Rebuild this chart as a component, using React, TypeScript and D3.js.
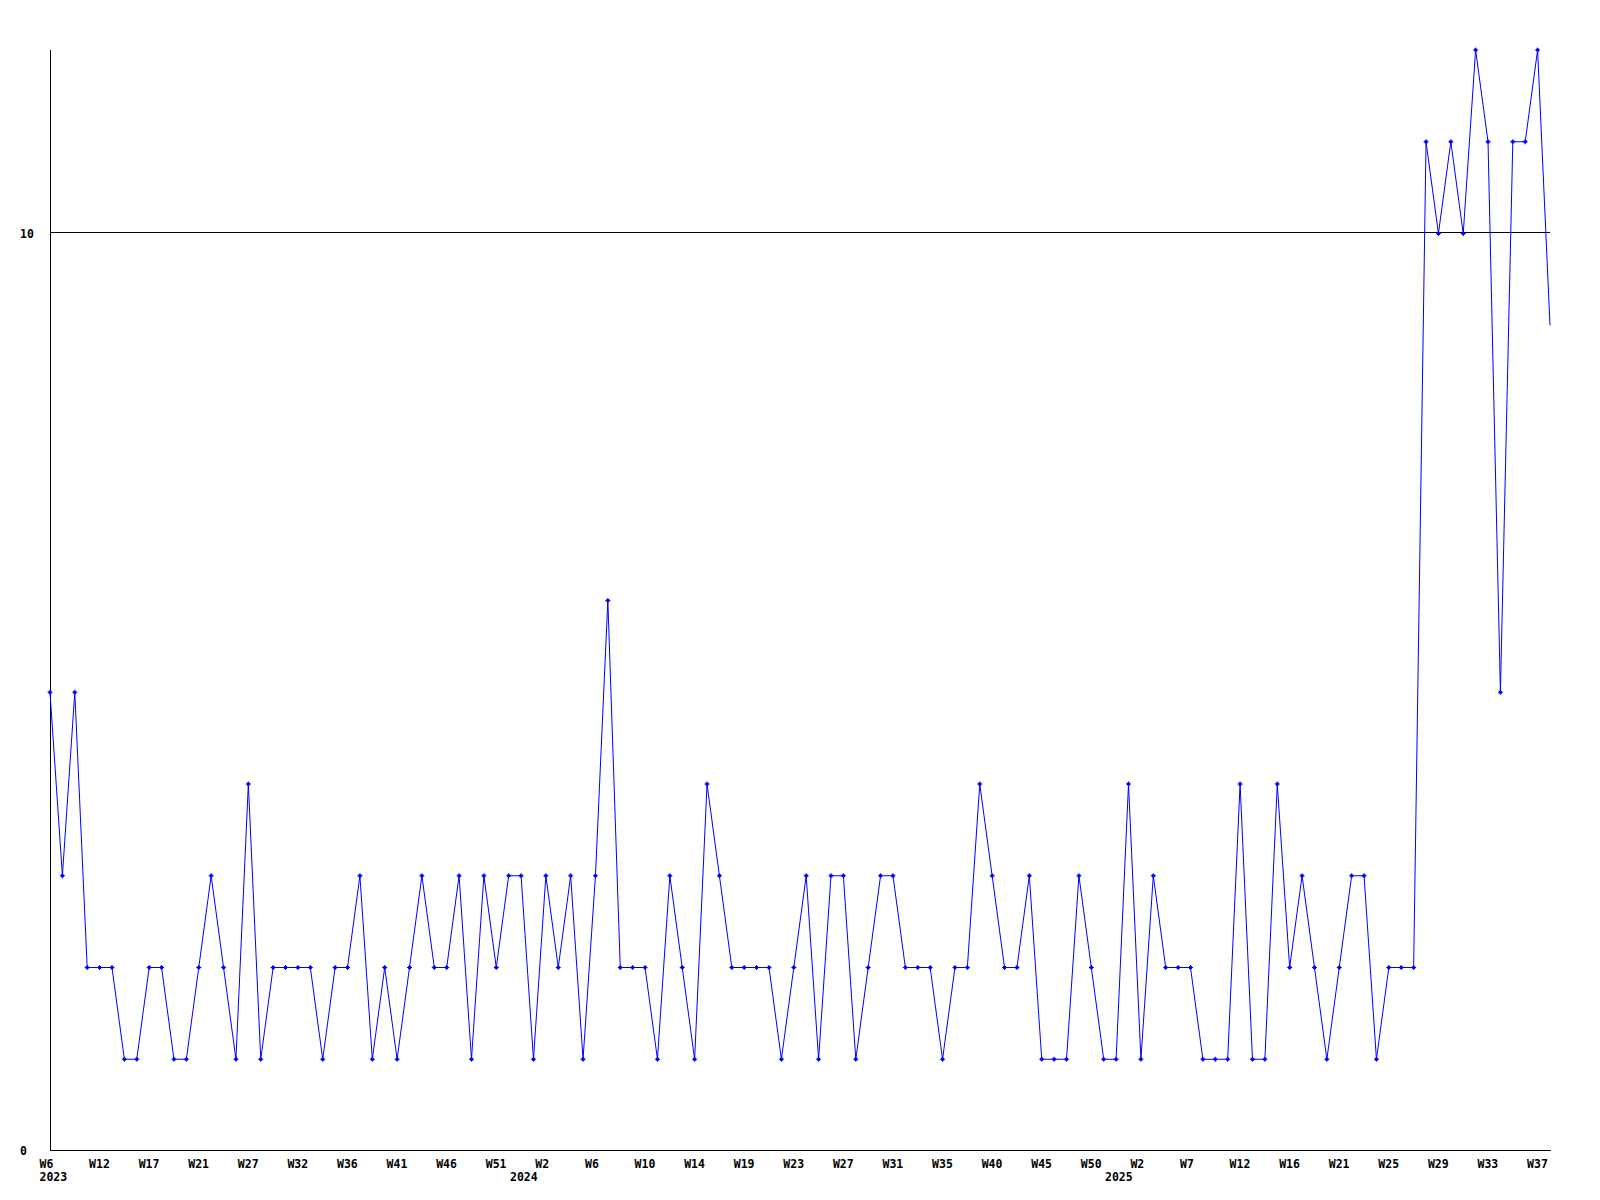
import React from "react";
import * as d3 from "d3";

// ---- data ----
const values: number[] = [
  5, 3, 5, 2, 2, 2, 1, 1, 2, 2, 1, 1, 2, 3, 2, 1, 4, 1, 2, 2,
  2, 2, 1, 2, 2, 3, 1, 2, 1, 2, 3, 2, 2, 3, 1, 3, 2, 3, 3, 1,
  3, 2, 3, 1, 3, 6, 2, 2, 2, 1, 3, 2, 1, 4, 3, 2, 2, 2, 2, 1,
  2, 3, 1, 3, 3, 1, 2, 3, 3, 2, 2, 2, 1, 2, 2, 4, 3, 2, 2, 3,
  1, 1, 1, 3, 2, 1, 1, 4, 1, 3, 2, 2, 2, 1, 1, 1, 4, 1, 1, 4,
  2, 3, 2, 1, 2, 3, 3, 1, 2, 2, 2, 11, 10, 11, 10, 12, 11, 5, 11, 11,
  12, 9,
];

// week labels, one every 4 points
const weekLabels: string[] = [
  "W6", "W12", "W17", "W21", "W27", "W32", "W36", "W41", "W46", "W51",
  "W2", "W6", "W10", "W14", "W19", "W23", "W27", "W31", "W35", "W40", "W45", "W50",
  "W2", "W7", "W12", "W16", "W21", "W25", "W29", "W33", "W37",
];
const labelEvery = 4;

// year labels and their position on the axis (in point-index units)
const yearLabels: string[] = ["2023", "2024", "2025"];
const yearPositions: number[] = [0, 37.95, 85.95];

const yTicks: number[] = [0, 10];
const yGrid: number[] = [10];
const yMax = 12;

const W = 1600;
const H = 1200;
const left = 50;
const right = 1550;
const top = 50;
const bottom = 1151;
const labelShift = 10.5;

export default function App() {
  const x = d3.scaleLinear().domain([0, values.length - 1]).range([left, right]);
  const y = d3.scaleLinear().domain([0, yMax]).range([bottom, top]);

  const line = d3
    .line<number>()
    .x((_, i) => x(i))
    .y((d) => y(d));

  const font = "'DejaVu Sans Mono', 'Liberation Mono', monospace";

  return (
    <svg
      width={W}
      height={H}
      viewBox={`0 0 ${W} ${H}`}
      style={{ position: "absolute", left: 0, top: 0, background: "#fff" }}
    >
      <rect x={0} y={0} width={W} height={H} fill="#fff" />
      {/* gridlines */}
      {yGrid.map((g) => (
        <line
          key={"g" + g}
          x1={left}
          x2={right}
          y1={Math.round(y(g)) - 0.5}
          y2={Math.round(y(g)) - 0.5}
          stroke="#000"
          strokeWidth={1}
          shapeRendering="crispEdges"
        />
      ))}
      {/* axes */}
      <line
        x1={left + 0.5}
        x2={left + 0.5}
        y1={top}
        y2={bottom}
        stroke="#000"
        strokeWidth={1}
        shapeRendering="crispEdges"
      />
      <line
        x1={left}
        x2={right + 1}
        y1={bottom - 0.5}
        y2={bottom - 0.5}
        stroke="#000"
        strokeWidth={1}
        shapeRendering="crispEdges"
      />
      {/* y labels */}
      {yTicks.map((t) => (
        <text
          key={"yt" + t}
          x={20}
          y={y(t) + 4}
          fontFamily={font}
          fontWeight="bold"
          fontSize={11.5}
          fill="#000"
        >
          {t}
        </text>
      ))}
      {/* x labels */}
      {weekLabels.map((l, i) => (
        <text
          key={"wl" + i}
          x={x(i * labelEvery) - labelShift}
          y={1168}
          textAnchor="start"
          fontFamily={font}
          fontWeight="bold"
          fontSize={11.5}
          fill="#000"
        >
          {l}
        </text>
      ))}
      {yearLabels.map((l, i) => (
        <text
          key={"yl" + i}
          x={x(yearPositions[i]) - labelShift}
          y={1181}
          textAnchor="start"
          fontFamily={font}
          fontWeight="bold"
          fontSize={11.5}
          fill="#000"
        >
          {l}
        </text>
      ))}
      {/* series */}
      <path d={line(values) || ""} fill="none" stroke="#0000ff" strokeWidth={1} />
      {values.slice(0, values.length - 1).map((v, i) => {
        const cx = x(i);
        const cy = y(v);
        return (
          <g key={"m" + i} fill="#0000ff" stroke="none">
            <rect x={cx - 2.5} y={cy - 0.5} width={5} height={1} />
            <rect x={cx - 0.5} y={cy - 2.5} width={1} height={5} />
            <rect x={cx - 1.5} y={cy - 1.5} width={3} height={3} />
          </g>
        );
      })}
    </svg>
  );
}
